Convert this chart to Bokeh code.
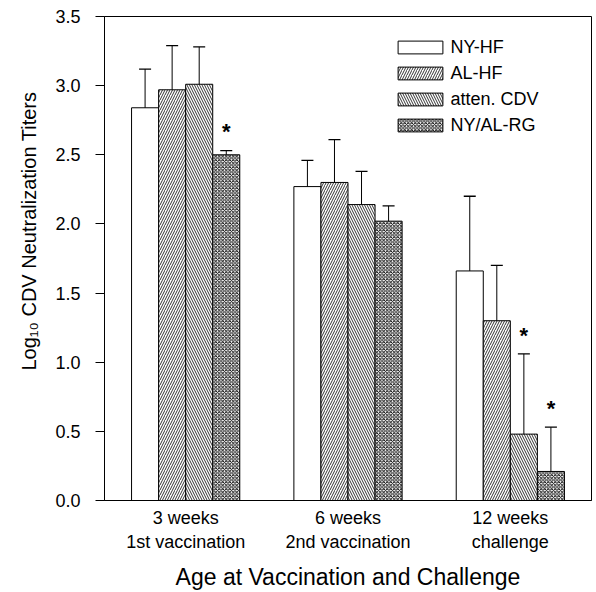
from bokeh.plotting import figure
from bokeh.models import (ColumnDataSource, FactorRange, Range1d, Title,
                          SingleIntervalTicker, PrintfTickFormatter)
from bokeh.transform import dodge
from bokeh.core.properties import value
from bokeh.embed import file_html
from bokeh.resources import INLINE

# ---- data ----
groups = ["3 weeks\n1st vaccination", "6 weeks\n2nd vaccination", "12 weeks\nchallenge"]
series = ["NY-HF", "AL-HF", "atten. CDV", "NY/AL-RG"]

ny_hf = [2.84, 2.27, 1.66]
ny_hf_err = [3.12, 2.46, 2.20]
al_hf = [2.97, 2.30, 1.30]
al_hf_err = [3.29, 2.61, 1.70]
atten = [3.01, 2.14, 0.48]
atten_err = [3.28, 2.38, 1.06]
rg = [2.50, 2.02, 0.21]
rg_err = [2.53, 2.13, 0.53]

# significance markers: (group, series, y)
star_groups = ["3 weeks\n1st vaccination", "12 weeks\nchallenge", "12 weeks\nchallenge"]
star_series = ["NY/AL-RG", "atten. CDV", "NY/AL-RG"]
star_y = [2.68, 1.21, 0.68]

y_ticks_interval = 0.5
y_title = "Log\u2081\u2080 CDV Neutralization Titers"
x_title = "Age at Vaccination and Challenge"

# ---- styling ----
FONT = "Liberation Sans"
hatches = {"NY-HF": None, "AL-HF": "right_diagonal_line",
           "atten. CDV": "left_diagonal_line", "NY/AL-RG": "diagonal_cross"}
hscale = {"AL-HF": 5, "atten. CDV": 5, "NY/AL-RG": 3.5}
hweight = {"AL-HF": 0.8, "atten. CDV": 0.8, "NY/AL-RG": 0.9}
values = {"NY-HF": (ny_hf, ny_hf_err), "AL-HF": (al_hf, al_hf_err),
          "atten. CDV": (atten, atten_err), "NY/AL-RG": (rg, rg_err)}
bar_w = 1.0 / 6
offsets = {s: (i - 1.5) * bar_w for i, s in enumerate(series)}

p = figure(width=596, height=592,
           x_range=FactorRange(*groups, range_padding=0),
           y_range=Range1d(0, 3.5),
           output_backend="svg", toolbar_location=None,
           min_border_left=104, min_border_right=5,
           min_border_top=16, min_border_bottom=92)

for s in series:
    vals, errs = values[s]
    src = ColumnDataSource(dict(grp=groups, val=vals, err=errs))
    xd = dodge("grp", offsets[s], range=p.x_range)
    kw = dict(hatch_pattern=hatches[s], hatch_color="black",
              hatch_scale=hscale[s], hatch_weight=hweight[s]) if hatches[s] else {}
    p.vbar(x=xd, top="val", bottom=0, width=bar_w, source=src,
           fill_color="white", line_color="black", line_width=1,
           legend_label=s, **kw)
    p.segment(x0=xd, y0="val", x1=xd, y1="err", source=src,
              line_color="black", line_width=1)
    p.scatter(x=xd, y="err", marker="dash", size=12, source=src,
              line_color="black", line_width=1.3)

for s in series:
    idx = [i for i, ss in enumerate(star_series) if ss == s]
    if not idx:
        continue
    ssrc = ColumnDataSource(dict(grp=[star_groups[i] for i in idx],
                                 y=[star_y[i] for i in idx],
                                 t=["*"] * len(idx)))
    p.text(x=dodge("grp", offsets[s], range=p.x_range), y="y", text="t",
           source=ssrc, text_font=value(FONT), text_font_size="22px",
           text_font_style="bold", text_align="center",
           text_baseline="middle", y_offset=2, text_color="black")

# axes
p.xgrid.grid_line_color = None
p.ygrid.grid_line_color = None
p.outline_line_color = "black"
p.outline_line_width = 1

p.yaxis.ticker = SingleIntervalTicker(interval=y_ticks_interval)
p.yaxis.formatter = PrintfTickFormatter(format="%.1f")
p.yaxis.minor_tick_line_color = None
p.yaxis.major_tick_in = 0
p.yaxis.major_tick_out = 9
p.yaxis.major_label_standoff = 15
p.yaxis.major_label_text_font = FONT
p.yaxis.major_label_text_font_size = "18px"
p.yaxis.major_label_text_color = "black"
p.yaxis.axis_line_color = "black"

p.xaxis.major_tick_line_color = None
p.xaxis.minor_tick_line_color = None
p.xaxis.major_tick_in = 0
p.xaxis.major_tick_out = 0
p.xaxis.major_label_standoff = 7
p.xaxis.major_label_text_font = FONT
p.xaxis.major_label_text_font_size = "18px"
p.xaxis.major_label_text_color = "black"
p.xaxis.axis_label = x_title
p.xaxis.axis_label_text_font = FONT
p.xaxis.axis_label_text_font_size = "23px"
p.xaxis.axis_label_text_font_style = "normal"
p.xaxis.axis_label_standoff = 9
p.xaxis.axis_label_text_color = "black"

# y-axis title as a side title (allows offset along the axis)
p.add_layout(Title(text=y_title, align="left", offset=130, standoff=25,
                   text_font=FONT, text_font_size="20px",
                   text_font_style="normal", text_color="black"), "left")

# legend
lg = p.legend[0]
lg.location = (288.4, 364.5)
lg.glyph_width = 56
lg.glyph_height = 16
lg.label_height = 20
lg.spacing = 5
lg.padding = 0
lg.margin = 0
lg.label_standoff = 2
lg.border_line_color = None
lg.background_fill_alpha = 0
lg.label_text_font = FONT
lg.label_text_font_size = "18px"
lg.label_text_color = "black"

open("out.html", "w").write(file_html(p, INLINE))
